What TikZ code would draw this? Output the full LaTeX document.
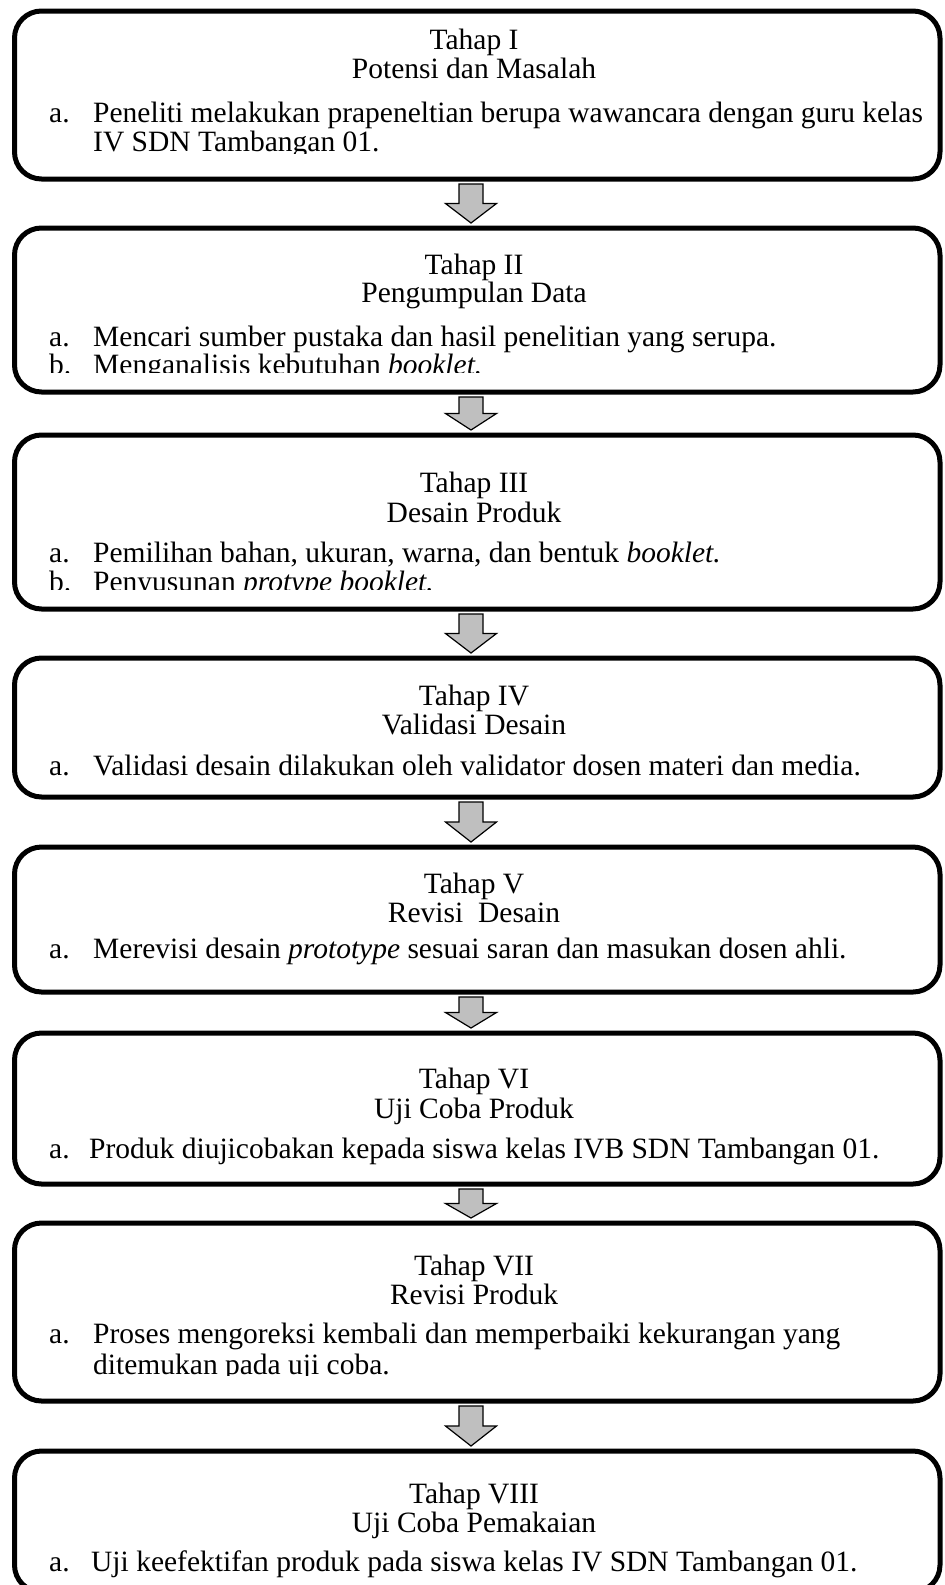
\documentclass[tikz,border=0pt]{standalone}
\usepackage{fontspec}
\setmainfont{Liberation Serif}
\usetikzlibrary{calc}
\tikzset{
  stage/.style={draw=black, line width=5pt, rounded corners=27pt, minimum width=925.5pt, inner sep=0pt, fill=white},
  ttl/.style={anchor=base, font=\fontsize{29.5}{29}\selectfont, inner sep=0pt},
  itm/.style={anchor=base west, font=\fontsize{29.5}{29}\selectfont, inner sep=0pt},
  fat/.style={draw=black, line width=1.2pt, fill=black!25, line join=miter},
}
\newcommand\flowarrow[2]{%
  \coordinate (fa-t) at ($(#1.south)+(-6.25,2.5)$);
  \coordinate (fa-b) at ($(#2.north)+(-6.25,-2.5)$);
  \coordinate (fa-m) at ($(fa-t)!0.5!(fa-b)$);
  \path[fat] ($(fa-t)+(-12,0)$) -- ($(fa-m)+(-12,0)$) -- ($(fa-m)+(-25.5,0)$) -- (fa-b)
    -- ($(fa-m)+(25.5,0)$) -- ($(fa-m)+(12,0)$) -- ($(fa-t)+(12,0)$) -- cycle;}
\begin{document}
\begin{tikzpicture}[x=1pt,y=-1pt]
\useasboundingbox (0,0) rectangle (945,1585);
% boxes
\node[stage, minimum height=168pt] (b1) at (477.25,95) {};
\node[stage, minimum height=164pt] (b2) at (477.25,310) {};
\node[stage, minimum height=174pt] (b3) at (477.25,522) {};
\node[stage, minimum height=139pt] (b4) at (477.25,727.5) {};
\node[stage, minimum height=145pt] (b5) at (477.25,919.5) {};
\node[stage, minimum height=151pt] (b6) at (477.25,1108.5) {};
\node[stage, minimum height=178pt] (b7) at (477.25,1312) {};
\node[stage, minimum height=141pt] (b8) at (477.25,1521.5) {};
% arrows
\flowarrow{b1}{b2}
\flowarrow{b2}{b3}
\flowarrow{b3}{b4}
\flowarrow{b4}{b5}
\flowarrow{b5}{b6}
\flowarrow{b6}{b7}
\flowarrow{b7}{b8}
% box 1
\node[ttl] (t1) at (474,49) {Tahap I};
\node[ttl] (s1) at (474,78) {Potensi dan Masalah};
\node[itm] (l1a) at (49,122) {a.};
\node[itm] (x1a) at (93,122) {Peneliti melakukan prapeneltian berupa wawancara dengan guru kelas};
\begin{scope}
\clip (0,0) rectangle (945,153);
\node[itm] (x1b) at (93,151) {IV SDN Tambangan 01.};
\end{scope}
% box 2
\node[ttl] (t2) at (474,274) {Tahap II};
\node[ttl] (s2) at (474,302) {Pengumpulan Data};
\node[itm] (l2a) at (49,346) {a.};
\node[itm] (x2a) at (93,346) {Mencari sumber pustaka dan hasil penelitian yang serupa.};
\begin{scope}
\clip (0,0) rectangle (945,372);
\node[itm] (l2b) at (49,374) {b.};
\node[itm] (x2b) at (93,374) {Menganalisis kebutuhan \textit{booklet.}};
\end{scope}
% box 3
\node[ttl] (t3) at (474,492) {Tahap III};
\node[ttl] (s3) at (474,522) {Desain Produk};
\node[itm] (l3a) at (49,562) {a.};
\node[itm] (x3a) at (93,562) {Pemilihan bahan, ukuran, warna, dan bentuk \textit{booklet.}};
\begin{scope}
\clip (0,0) rectangle (945,589);
\node[itm] (l3b) at (49,591) {b.};
\node[itm] (x3b) at (93,591) {Penyusunan \textit{protype booklet.}};
\end{scope}
% box 4
\node[ttl] (t4) at (474,705) {Tahap IV};
\node[ttl] (s4) at (474,734) {Validasi Desain};
\node[itm] (l4a) at (49,775) {a.};
\node[itm] (x4a) at (93,775) {Validasi desain dilakukan oleh validator dosen materi dan media.};
% box 5
\node[ttl] (t5) at (474,893) {Tahap V};
\node[ttl] (s5) at (474,922) {Revisi\ \ Desain};
\node[itm] (l5a) at (49,958) {a.};
\node[itm] (x5a) at (93,958) {Merevisi desain \textit{prototype} sesuai saran dan masukan dosen ahli.};
% box 6
\node[ttl] (t6) at (474,1088) {Tahap VI};
\node[ttl] (s6) at (474,1118) {Uji Coba Produk};
\node[itm] (l6a) at (49,1158) {a.};
\node[itm] (x6a) at (89,1158) {Produk diujicobakan kepada siswa kelas IVB SDN Tambangan 01.};
% box 7
\node[ttl] (t7) at (474,1275) {Tahap VII};
\node[ttl] (s7) at (474,1304) {Revisi Produk};
\node[itm] (l7a) at (49,1343) {a.};
\node[itm] (x7a) at (93,1343) {Proses mengoreksi kembali dan memperbaiki kekurangan yang};
\begin{scope}
\clip (0,0) rectangle (945,1375);
\node[itm] (x7b) at (93,1374) {ditemukan pada uji coba.};
\end{scope}
% box 8
\node[ttl] (t8) at (474,1503) {Tahap VIII};
\node[ttl] (s8) at (474,1532) {Uji Coba Pemakaian};
\node[itm] (l8a) at (49,1571) {a.};
\node[itm] (x8a) at (91,1571) {Uji keefektifan produk pada siswa kelas IV SDN Tambangan 01.};
\end{tikzpicture}
\end{document}
